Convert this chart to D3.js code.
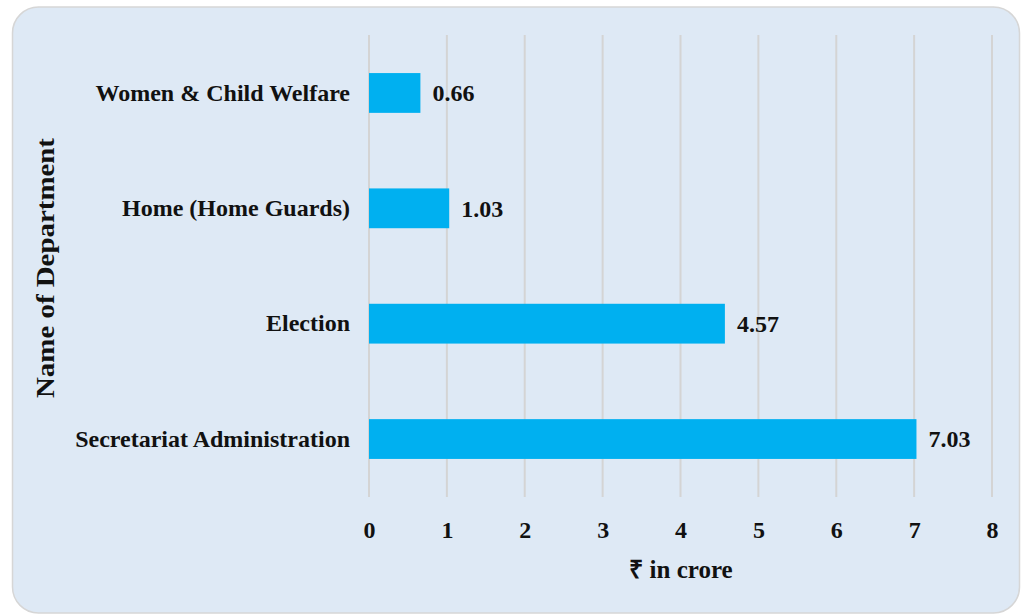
<!doctype html>
<html lang="en">
<head>
<meta charset="utf-8">
<title>Department chart</title>
<script src="https://cdn.jsdelivr.net/npm/d3@7"></script>
<style>
  body { margin: 0; background: #fff; }
  text { font-family: "Liberation Serif", "Times New Roman", serif; font-weight: bold; fill: #111; }
  .grid line { stroke: #d4d4d4; stroke-width: 2; }
</style>
</head>
<body>
<svg id="chart" width="1024" height="615"></svg>
<script>
var departments = ["Women & Child Welfare", "Home (Home Guards)", "Election", "Secretariat Administration"];
var amounts = [0.66, 1.03, 4.57, 7.03];
var xTicks = [0, 1, 2, 3, 4, 5, 6, 7, 8];

var svg = d3.select("#chart");

// panel background
svg.append("rect")
  .attr("x", 12.5).attr("y", 7)
  .attr("width", 1007).attr("height", 606)
  .attr("rx", 26)
  .attr("fill", "#dee9f5")
  .attr("stroke", "#d6d6d6")
  .attr("stroke-width", 1.5);

var x = d3.scaleLinear().domain([0, 8]).range([369, 992]);
var y = d3.scaleBand().domain(departments).range([35, 497]).paddingInner(0.655).paddingOuter(0.33);

// gridlines
svg.append("g").attr("class", "grid")
  .selectAll("line").data(xTicks).enter().append("line")
  .attr("x1", function(d) { return x(d); })
  .attr("x2", function(d) { return x(d); })
  .attr("y1", 35).attr("y2", 497);

// bars
svg.append("g").selectAll("rect")
  .data(amounts).enter().append("rect")
  .attr("x", x(0))
  .attr("y", function(d, i) { return y(departments[i]); })
  .attr("width", function(d) { return x(d) - x(0); })
  .attr("height", y.bandwidth())
  .attr("fill", "#00b0f0");

// value labels
svg.append("g").selectAll("text")
  .data(amounts).enter().append("text")
  .attr("x", function(d) { return x(d) + 12; })
  .attr("y", function(d, i) { return y(departments[i]) + y.bandwidth() / 2; })
  .attr("dy", "0.35em")
  .attr("font-size", 24)
  .text(function(d) { return d.toFixed(2); });

// x axis
var xAxis = svg.append("g")
  .attr("transform", "translate(0,497)")
  .call(d3.axisBottom(x).tickValues(xTicks).tickSize(0).tickPadding(24).tickFormat(d3.format("d")));
xAxis.select(".domain").remove();
xAxis.selectAll("text").attr("font-size", 24).style("font-family", "'Liberation Serif', serif").style("font-weight", "bold").attr("fill", "#111");

// y axis
var yAxis = svg.append("g")
  .attr("transform", "translate(369,0)")
  .call(d3.axisLeft(y).tickSize(0).tickPadding(19));
yAxis.select(".domain").remove();
yAxis.selectAll("text").attr("font-size", 24).style("font-family", "'Liberation Serif', serif").style("font-weight", "bold").attr("fill", "#111");

// axis titles
svg.append("text")
  .attr("x", 681).attr("y", 578)
  .attr("text-anchor", "middle")
  .attr("font-size", 25)
  .text("₹ in crore");

svg.append("text")
  .attr("transform", "translate(54,268) rotate(-90)")
  .attr("text-anchor", "middle")
  .attr("font-size", 26)
  .attr("textLength", 260)
  .attr("lengthAdjust", "spacingAndGlyphs")
  .text("Name of Department");
</script>
</body>
</html>
